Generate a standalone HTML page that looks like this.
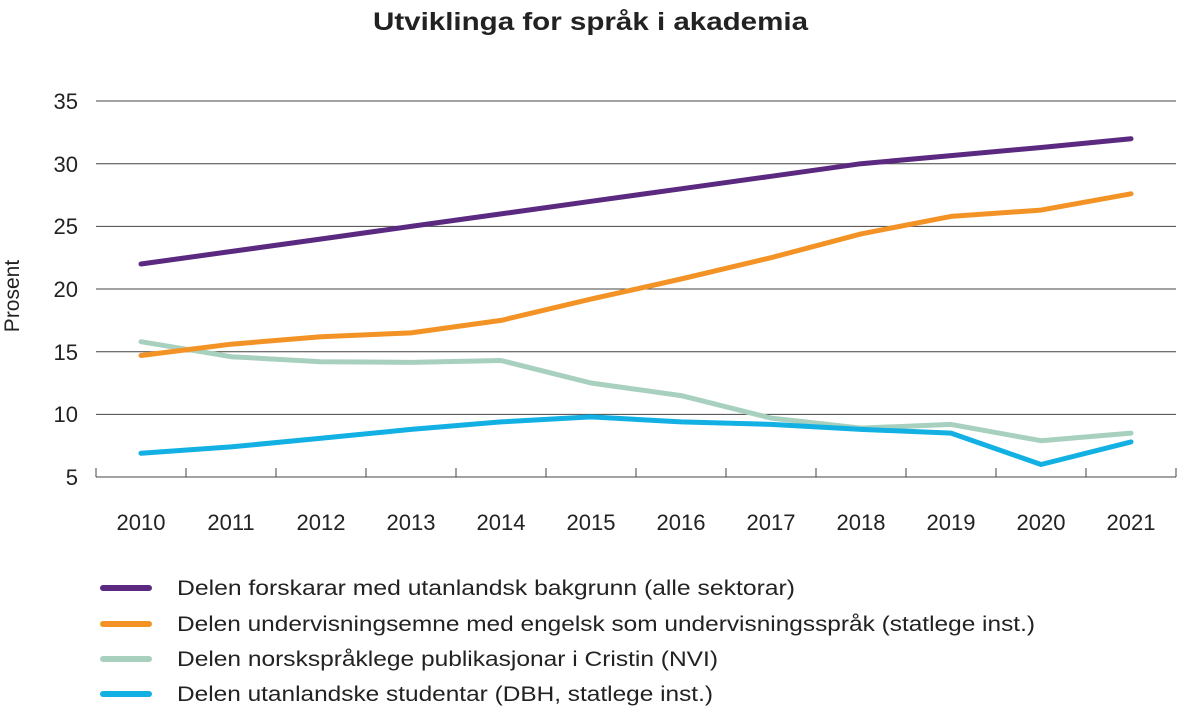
<!DOCTYPE html>
<html><head><meta charset="utf-8"><style>
body{margin:0;background:#fff;}
svg text{font-family:"Liberation Sans",sans-serif;fill:#222;}
</style></head><body>
<svg width="1179" height="717" viewBox="0 0 1179 717" xmlns="http://www.w3.org/2000/svg">
<text x="373" y="30" font-size="25" font-weight="bold" textLength="435" lengthAdjust="spacingAndGlyphs" style="fill:#222">Utviklinga for språk i akademia</text>
<g stroke="#444" stroke-width="1">
<line x1="96" y1="101" x2="1176" y2="101"/>
<line x1="96" y1="163.7" x2="1176" y2="163.7"/>
<line x1="96" y1="226.4" x2="1176" y2="226.4"/>
<line x1="96" y1="289" x2="1176" y2="289"/>
<line x1="96" y1="351.7" x2="1176" y2="351.7"/>
<line x1="96" y1="414.4" x2="1176" y2="414.4"/>
<line x1="96" y1="477" x2="1176" y2="477"/>
<line x1="96" y1="468" x2="96" y2="477"/><line x1="186" y1="468" x2="186" y2="477"/><line x1="276" y1="468" x2="276" y2="477"/><line x1="366" y1="468" x2="366" y2="477"/><line x1="456" y1="468" x2="456" y2="477"/><line x1="546" y1="468" x2="546" y2="477"/><line x1="636" y1="468" x2="636" y2="477"/><line x1="726" y1="468" x2="726" y2="477"/><line x1="816" y1="468" x2="816" y2="477"/><line x1="906" y1="468" x2="906" y2="477"/><line x1="996" y1="468" x2="996" y2="477"/><line x1="1086" y1="468" x2="1086" y2="477"/><line x1="1176" y1="468" x2="1176" y2="477"/>
</g>
<g font-size="22" text-anchor="end">
<text x="78" y="109">35</text><text x="78" y="172">30</text><text x="78" y="234">25</text><text x="78" y="297">20</text><text x="78" y="360">15</text><text x="78" y="422">10</text><text x="78" y="485">5</text>
</g>
<text transform="translate(19,296) rotate(-90)" font-size="21" text-anchor="middle">Prosent</text>
<g font-size="22" text-anchor="middle">
<text x="141" y="530">2010</text><text x="231" y="530">2011</text><text x="321" y="530">2012</text><text x="411" y="530">2013</text><text x="501" y="530">2014</text><text x="591" y="530">2015</text><text x="681" y="530">2016</text><text x="771" y="530">2017</text><text x="861" y="530">2018</text><text x="951" y="530">2019</text><text x="1041" y="530">2020</text><text x="1131" y="530">2021</text>
</g>
<g fill="none" stroke-width="5" stroke-linejoin="round" stroke-linecap="round">
<polyline stroke="#a8d0bf" points="141,341.7 231,356.7 321,361.7 411,362.4 501,360.5 591,383 681,395.6 771,418.1 861,428.1 951,424.4 1041,440.7 1131,433.1"/>
<polyline stroke="#12b0e3" points="141,453.2 231,446.9 321,438.2 411,429.4 501,421.9 591,416.9 681,421.9 771,424.4 861,429.4 951,433.1 1041,464.5 1131,441.9"/>
<polyline stroke="#f39325" points="141,355.5 231,344.2 321,336.7 411,332.9 501,320.4 591,299.1 681,279 771,257.7 861,233.9 951,216.4 1041,210.1 1131,193.8"/>
<polyline stroke="#5b2a80" points="141,264 231,251.5 321,239 411,226.4 501,213.9 591,201.3 681,188.8 771,176.3 861,163.7 951,155.6 1041,147.5 1131,138.7"/>
</g>
<g stroke-width="6" stroke-linecap="round">
<line x1="103" y1="588" x2="149" y2="588" stroke="#5b2a80"/>
<line x1="103" y1="624" x2="149" y2="624" stroke="#f39325"/>
<line x1="103" y1="659" x2="149" y2="659" stroke="#a8d0bf"/>
<line x1="103" y1="694" x2="149" y2="694" stroke="#12b0e3"/>
</g>
<g font-size="21" lengthAdjust="spacingAndGlyphs">
<text x="177" y="595" textLength="618" lengthAdjust="spacingAndGlyphs">Delen forskarar med utanlandsk bakgrunn (alle sektorar)</text>
<text x="177" y="631" textLength="858" lengthAdjust="spacingAndGlyphs">Delen undervisningsemne med engelsk som undervisningsspråk (statlege inst.)</text>
<text x="177" y="666" textLength="541" lengthAdjust="spacingAndGlyphs">Delen norskspråklege publikasjonar i Cristin (NVI)</text>
<text x="177" y="701" textLength="536" lengthAdjust="spacingAndGlyphs">Delen utanlandske studentar (DBH, statlege inst.)</text>
</g>
</svg>
</body></html>
